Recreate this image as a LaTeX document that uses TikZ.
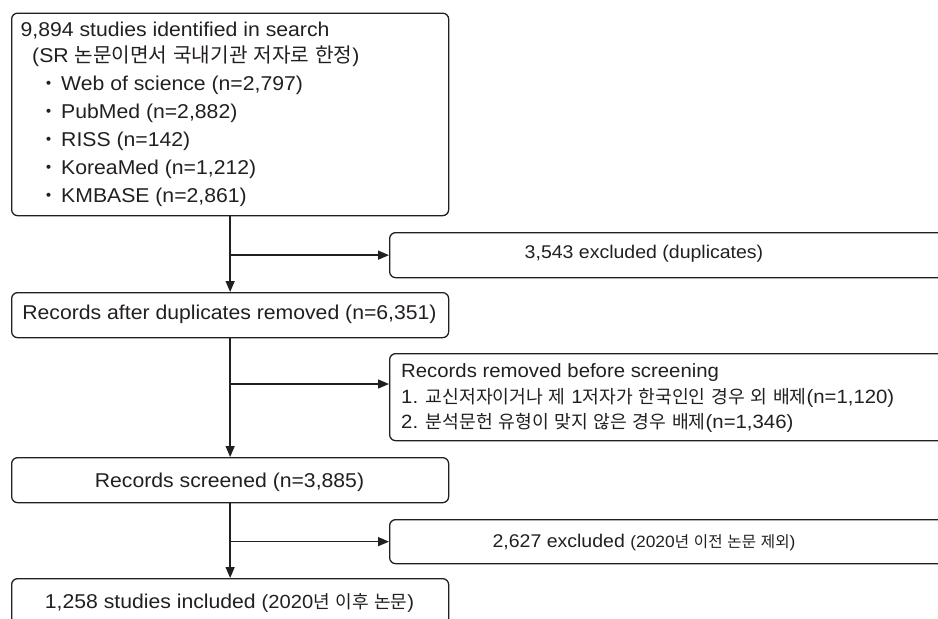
\documentclass[tikz,border=0pt]{standalone}
\usepackage{fontspec}
\setmainfont{Liberation Sans}[FakeStretch=1.06]
\newfontfamily\krfont{Noto Sans CJK KR}[Scale=0.95]
\newfontfamily\krbig{Noto Sans CJK KR}[Scale=1.01]
\usetikzlibrary{arrows.meta}
\definecolor{ink}{RGB}{35,31,32}
\newcommand\K[1]{{\krfont #1}}
\newcommand\KB[1]{{\krbig #1}}
\newcommand\mainsz{\fontsize{20}{23}\selectfont}
\newcommand\midsz{\fontsize{19.2}{22}\selectfont}
\newcommand\exsz{\fontsize{18.4}{21}\selectfont}
\newcommand\smallsz{\fontsize{16.4}{19}\selectfont}
\newcommand\inclsz{\fontsize{19}{21}\selectfont}
\begin{document}
\begin{tikzpicture}[x=1pt,y=-1pt,
  box/.style={draw=ink, line width=1.3pt, rounded corners=6pt, inner sep=0pt, anchor=north west},
  txt/.style={inner sep=0pt, text=ink, font=\mainsz},
  arr/.style={draw=ink, line width=1.4pt, -{Triangle[length=11pt,width=9pt]}}]
\useasboundingbox (0,0) rectangle (938,619);
\clip (0,0) rectangle (938,619);
% boxes
\node[box, minimum width=437pt, minimum height=202.5pt] (b1) at (11,12.5) {};
\node[box, minimum width=600pt, minimum height=45pt] (b2) at (389,232) {};
\node[box, minimum width=437pt, minimum height=45pt] (b3) at (11,292) {};
\node[box, minimum width=600pt, minimum height=87pt] (b4) at (389,353) {};
\node[box, minimum width=437pt, minimum height=45pt] (b5) at (11,457) {};
\node[box, minimum width=600pt, minimum height=44pt] (b6) at (389,519) {};
\node[box, minimum width=437pt, minimum height=60pt] (b7) at (11,578) {};
% box 1 text
\node[txt, anchor=base west] (t1) at (20.5,36) {9,894 studies identified in search};
\node[txt, anchor=base west] (t2) at (32,62) {(SR \KB{논문이면서} \KB{국내기관} \KB{저자로} \KB{한정})};
\node[txt, anchor=base west] (t3) at (39,90) {\K{・}\hspace{3pt}Web of science (n=2,797)};
\node[txt, anchor=base west] (t4) at (39,118) {\K{・}\hspace{3pt}PubMed (n=2,882)};
\node[txt, anchor=base west] (t5) at (39,146) {\K{・}\hspace{3pt}RISS (n=142)};
\node[txt, anchor=base west] (t6) at (39,174) {\K{・}\hspace{3pt}KoreaMed (n=1,212)};
\node[txt, anchor=base west] (t7) at (39,202) {\K{・}\hspace{3pt}KMBASE (n=2,861)};
% other texts
\node[txt, anchor=base, font=\exsz] (t8) at (644,258) {3,543 excluded (duplicates)};
\node[txt, anchor=base] (t9) at (229.5,319.5) {Records after duplicates removed (n=6,351)};
\node[txt, anchor=base west, font=\midsz] (t10) at (401,377) {Records removed before screening};
\node[txt, anchor=base west, font=\midsz] (t11) at (401,403) {1. \K{교신저자이거나} \K{제} 1\K{저자가} \K{한국인인} \K{경우} \K{외} \K{배제}(n=1,120)};
\node[txt, anchor=base west, font=\midsz] (t12) at (401,428) {2. \K{분석문헌} \K{유형이} \K{맞지} \K{않은} \K{경우} \K{배제}(n=1,346)};
\node[txt, anchor=base] (t13) at (229.5,487) {Records screened (n=3,885)};
\node[txt, anchor=base, font=\exsz] (t14) at (644,547) {2,627 excluded {\smallsz(2020\K{년} \K{이전} \K{논문} \K{제외})}};
\node[txt, anchor=base] (t15) at (229.5,608) {1,258 studies included {\inclsz(2020\K{년} \K{이후} \K{논문})}};
% connectors
\draw[arr] (b1.south) -- (b3.north);
\draw[arr] (b3.south) -- (b5.north);
\draw[arr] (b5.south) -- (b7.north);
\draw[arr] (b2.west -| b3.north) -- (b2.west);
\coordinate (j2) at (229.5,384);
\draw[arr] (j2) -- (j2 -| b4.west);
\draw[arr] (b6.west -| b5.north) -- (b6.west);
\end{tikzpicture}
\end{document}
